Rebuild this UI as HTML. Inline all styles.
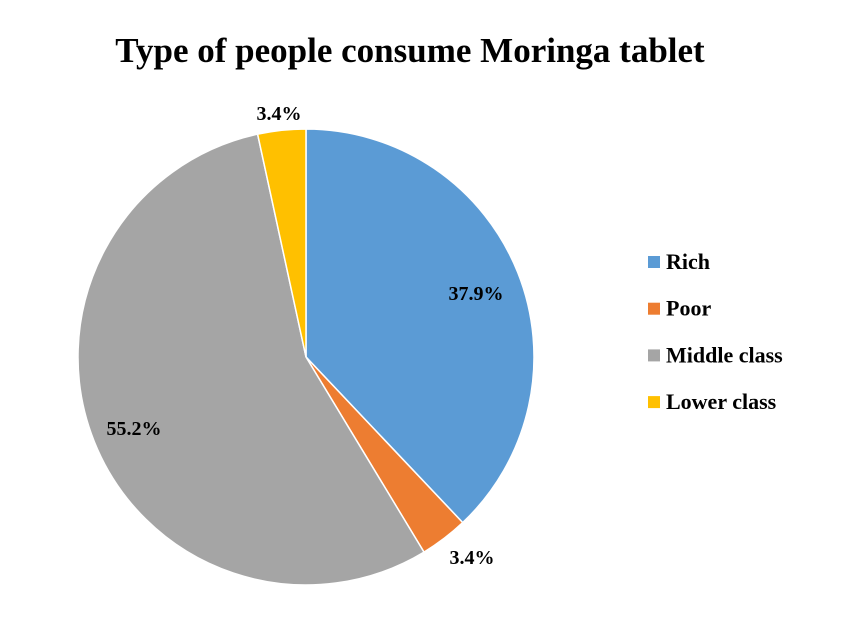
<!DOCTYPE html>
<html><head><meta charset="utf-8"><style>
body{margin:0;background:#fff;width:856px;height:618px;overflow:hidden;font-family:"Liberation Serif",serif}
</style></head><body>
<svg width="856" height="618">
<text x="410" y="62" text-anchor="middle" font-size="35" font-weight="bold">Type of people consume Moringa tablet</text>
<g id="slices"></g><g id="labels"></g><g id="legend"></g>
</svg>
<script>
const categories=["Rich","Poor","Middle class","Lower class"];
const values=[37.9,3.4,55.2,3.4];
const labels=["37.9%","3.4%","55.2%","3.4%"];
const colors=["#5b9bd5","#ed7d31","#a5a5a5","#ffc000"];
const NS="http://www.w3.org/2000/svg";
const cx=306,cy=357,r=228;
const total=values.reduce((a,b)=>a+b,0);
const labelPos=[[476,300],[472,564],[134,435],[279,120]];
let a=-Math.PI/2;
const sg=document.getElementById('slices'),lg=document.getElementById('labels'),gg=document.getElementById('legend');
values.forEach((v,i)=>{
 const a2=a+v/total*2*Math.PI;
 const p=document.createElementNS(NS,'path');
 const large=(a2-a)>Math.PI?1:0;
 p.setAttribute('d',`M${cx},${cy}L${cx+r*Math.cos(a)},${cy+r*Math.sin(a)}A${r},${r} 0 ${large} 1 ${cx+r*Math.cos(a2)},${cy+r*Math.sin(a2)}Z`);
 p.setAttribute('fill',colors[i]);p.setAttribute('stroke','#fff');p.setAttribute('stroke-width','1.5');
 
 
 sg.appendChild(p);
 const t=document.createElementNS(NS,'text');
 t.setAttribute('x',labelPos[i][0]);t.setAttribute('y',labelPos[i][1]);
 t.setAttribute('text-anchor','middle');t.setAttribute('font-size','20');t.setAttribute('font-weight','bold');
 t.textContent=labels[i];
 
 
 lg.appendChild(t);
 const y=262+i*46.7;
 const s=document.createElementNS(NS,'rect');
 s.setAttribute('x',648);s.setAttribute('y',y-6);s.setAttribute('width',12);s.setAttribute('height',12);s.setAttribute('fill',colors[i]);
 
 
 gg.appendChild(s);
 const lt=document.createElementNS(NS,'text');
 lt.setAttribute('x',666);lt.setAttribute('y',y+7);lt.setAttribute('font-size','22');lt.setAttribute('font-weight','bold');
 lt.textContent=categories[i];
 
 
 gg.appendChild(lt);
 a=a2;
});
</script>
</body></html>
